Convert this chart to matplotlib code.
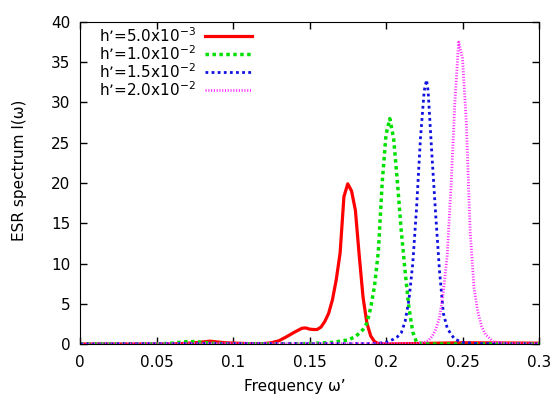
import matplotlib
matplotlib.use("Agg")
import matplotlib.pyplot as plt

# ESR spectra for four values of h'
labels = [r"h’=5.0x10$^{-3}$", r"h’=1.0x10$^{-2}$",
          r"h’=1.5x10$^{-2}$", r"h’=2.0x10$^{-2}$"]

x_red = [0, 0.06, 0.075, 0.085, 0.095, 0.11, 0.12, 0.125, 0.13, 0.135, 0.14, 0.1425,
         0.145, 0.1475, 0.15, 0.1525, 0.155, 0.1575, 0.16, 0.1625, 0.165, 0.1675, 0.17,
         0.1725, 0.175, 0.1775, 0.18, 0.1825, 0.185, 0.1875, 0.19, 0.1925, 0.195, 0.2,
         0.25, 0.3]
y_red = [0, 0.0, 0.15, 0.35, 0.15, 0.05, 0.05, 0.15, 0.4, 0.9, 1.45, 1.7,
         1.95, 2.0, 1.85, 1.8, 1.8, 2.1, 2.8, 3.8, 5.5, 8.0, 11.3,
         18.3, 19.9, 19.0, 16.6, 11.0, 5.8, 2.6, 1.0, 0.3, 0.05, 0.0,
         0.15, 0.1]

x_green = [0, 0.05, 0.06, 0.07, 0.075, 0.085, 0.1, 0.15, 0.165, 0.175, 0.18, 0.185,
           0.1875, 0.19, 0.1925, 0.195, 0.1975, 0.2, 0.2025, 0.205, 0.2075, 0.21,
           0.2125, 0.215, 0.2175, 0.22, 0.225, 0.3]
y_green = [0, 0.0, 0.1, 0.3, 0.3, 0.1, 0.0, 0.05, 0.2, 0.5, 0.9, 1.8,
           2.6, 4.5, 7.2, 11.5, 20.0, 26.0, 28.0, 25.5, 20.0, 14.0,
           9.0, 4.5, 1.5, 0.2, 0.0, 0.0]

x_blue = [0, 0.06, 0.1, 0.19, 0.195, 0.2, 0.205, 0.2075, 0.21, 0.2125, 0.215, 0.2175,
          0.22, 0.2225, 0.225, 0.2265, 0.2275, 0.23, 0.2325, 0.235, 0.2375, 0.24,
          0.2425, 0.245, 0.25, 0.26, 0.3]
y_blue = [0, 0.05, 0.05, 0.05, 0.1, 0.2, 0.6, 0.9, 1.4, 2.8, 5.5, 10.0,
          17.0, 25.5, 31.5, 32.8, 31.5, 23.5, 16.0, 9.0, 3.8, 2.0,
          1.2, 0.6, 0.2, 0.05, 0.0]

x_mag = [0, 0.05, 0.1, 0.22, 0.225, 0.2275, 0.23, 0.2325, 0.235, 0.2375, 0.24, 0.2425,
         0.245, 0.2475, 0.25, 0.2525, 0.255, 0.2575, 0.26, 0.2625, 0.265, 0.27, 0.28,
         0.3]
y_mag = [0, 0.05, 0.05, 0.05, 0.2, 0.4, 0.9, 1.8, 3.3, 6.5, 11.0, 19.5,
         30.0, 37.5, 35.5, 27.5, 14.0, 7.0, 4.0, 2.2, 1.2, 0.3, 0.05,
         0.0]

plt.rcParams["font.family"] = "DejaVu Sans"
fig = plt.figure(figsize=(5.54, 3.94), dpi=100)
ax = fig.add_axes([80 / 554, 1 - 344 / 394, (539 - 80) / 554, (344 - 22) / 394])

ax.plot(x_red, y_red, color="#ff0000", lw=2.3, label=labels[0])
ax.plot(x_green, y_green, color="#00e000", lw=2.5, ls=(0, (1, 1)), label=labels[1])
ax.plot(x_blue, y_blue, color="#1010e0", lw=2.0, ls=(0, (1, 1.2)), label=labels[2])
ax.plot(x_mag, y_mag, color="#ff30ff", lw=2.0, ls=(0, (0.4, 0.6)), label=labels[3])

ax.set_xlim(0, 0.3)
ax.set_ylim(0, 40)
ax.set_xticks([0, 0.05, 0.1, 0.15, 0.2, 0.25, 0.3])
ax.set_xticklabels(["0", "0.05", "0.1", "0.15", "0.2", "0.25", "0.3"])
ax.set_yticks(range(0, 41, 5))
ax.tick_params(direction="in", length=5, width=1, top=True, right=True,
               labelsize=11, pad=7)
ax.tick_params(axis="x", pad=8)

fig.text(295 / 554, 1 - 379 / 394, "Frequency ω’", fontsize=11, ha="center", va="top")
fig.text(20 / 554, 1 - 170 / 394, "ESR spectrum I(ω)", fontsize=11,
         rotation=90, ha="center", va="center")

leg = ax.legend(loc="upper right", bbox_to_anchor=(252 / 554, 1 - 26 / 394),
                bbox_transform=fig.transFigure, frameon=False, markerfirst=False,
                fontsize=11, handlelength=3.1, handletextpad=0.6,
                labelspacing=-0.05, borderpad=0, borderaxespad=0)

fig.savefig("out.png", dpi=100)
